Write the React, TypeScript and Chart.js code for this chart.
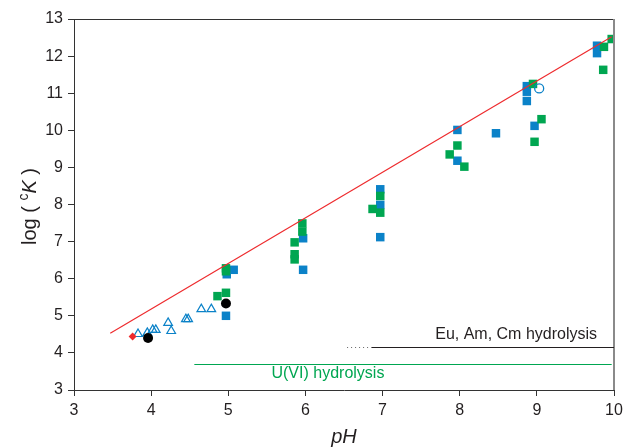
import React, { useEffect, useRef } from "react";
import { Chart, registerables } from "chart.js";

Chart.register(...registerables);

// Hydrolysis constants log(cK) against pH

const blueSquarePH = [4.97, 4.98, 5.07, 5.97, 5.97, 6.97, 6.97, 6.97, 7.97, 7.97, 8.47, 8.97, 8.87, 8.87, 8.87, 9.78, 9.78];
const blueSquareLogK = [5.0, 6.12, 6.24, 7.09, 6.24, 8.41, 7.99, 7.12, 10.01, 9.18, 9.92, 10.12, 11.19, 11.04, 10.79, 12.28, 12.08];

const greenSquarePH = [4.97, 4.97, 4.86, 4.97, 5.96, 5.96, 5.86, 5.86, 5.86, 6.97, 6.87, 6.97, 7.97, 7.87, 8.06, 8.97, 9.06, 8.95, 9.87, 9.97, 9.86];
const greenSquareLogK = [6.28, 6.2, 5.53, 5.62, 7.49, 7.27, 6.98, 6.66, 6.52, 8.23, 7.88, 7.78, 9.59, 9.35, 9.02, 9.69, 10.3, 11.25, 12.25, 12.46, 11.63];

const trianglePH = [3.83, 3.95, 4.02, 4.06, 4.22, 4.26, 4.45, 4.48, 4.65, 4.78];
const triangleLogK = [4.51, 4.54, 4.62, 4.62, 4.81, 4.59, 4.91, 4.91, 5.18, 5.18];

const blackCirclePH = [3.96, 4.97];
const blackCircleLogK = [4.4, 5.33];

const openCirclePH = [9.03];
const openCircleLogK = [11.13];

const redDiamondPH = [3.76];
const redDiamondLogK = [4.44];

const fitLinePH = [3.47, 9.97];
const fitLineLogK = [4.53, 12.52];

const xTickValues = [3, 4, 5, 6, 7, 8, 9, 10];
const yTickValues = [3, 4, 5, 6, 7, 8, 9, 10, 11, 12, 13];

// Hydrolysis range markers: [pH start, pH end, logK]
const euDottedRange = [6.54, 6.86];
const euLineRange = [6.86, 10];
const euLineLogK = 4.15;
const euLabel = "Eu, Am, Cm hydrolysis";
const euLabelAt = [9.78, 4.5];

const uLineRange = [4.56, 9.97];
const uLineLogK = 3.69;
const uLabel = "U(VI) hydrolysis";
const uLabelAt = [5.56, 3.43];

const FONT = '"Liberation Sans", Arial, Helvetica, sans-serif';
const BLUE = "#0b82c8";
const GREEN = "#00a651";
const RED = "#ee2b2e";
const INK = "#231f20";

const pts = (xs: number[], ys: number[]) => xs.map((x, i) => ({ x, y: ys[i] }));

const notesPlugin = {
  id: "notes",
  afterDatasetsDraw(chart: any) {
    const { ctx, chartArea, scales } = chart;
    const x = scales.x;
    const y = scales.y;
    ctx.save();

    // top and right frame
    ctx.strokeStyle = "#333";
    ctx.lineWidth = 1;
    ctx.beginPath();
    ctx.moveTo(chartArea.left, Math.round(chartArea.top) + 0.5);
    ctx.lineTo(chartArea.right, Math.round(chartArea.top) + 0.5);
    ctx.stroke();
    ctx.strokeStyle = "#8a8a8a";
    ctx.lineWidth = 2;
    ctx.beginPath();
    ctx.moveTo(chartArea.right, chartArea.top);
    ctx.lineTo(chartArea.right, chartArea.bottom);
    ctx.stroke();

    // Eu, Am, Cm range
    const ey = Math.round(y.getPixelForValue(euLineLogK)) + 0.5;
    ctx.strokeStyle = "#666";
    ctx.lineWidth = 1;
    ctx.setLineDash([1, 3]);
    ctx.beginPath();
    ctx.moveTo(x.getPixelForValue(euDottedRange[0]), ey);
    ctx.lineTo(x.getPixelForValue(euDottedRange[1]), ey);
    ctx.stroke();
    ctx.setLineDash([]);
    ctx.strokeStyle = INK;
    ctx.beginPath();
    ctx.moveTo(x.getPixelForValue(euLineRange[0]), ey);
    ctx.lineTo(x.getPixelForValue(euLineRange[1]), ey);
    ctx.stroke();

    ctx.font = `16px ${FONT}`;
    ctx.fillStyle = INK;
    ctx.textAlign = "right";
    ctx.textBaseline = "middle";
    ctx.fillText(euLabel, x.getPixelForValue(euLabelAt[0]), y.getPixelForValue(euLabelAt[1]));

    // U(VI) range
    const uy = Math.round(y.getPixelForValue(uLineLogK)) + 0.5;
    ctx.strokeStyle = GREEN;
    ctx.beginPath();
    ctx.moveTo(x.getPixelForValue(uLineRange[0]), uy);
    ctx.lineTo(x.getPixelForValue(uLineRange[1]), uy);
    ctx.stroke();
    ctx.fillStyle = GREEN;
    ctx.textAlign = "left";
    ctx.fillText(uLabel, x.getPixelForValue(uLabelAt[0]), y.getPixelForValue(uLabelAt[1]));

    ctx.restore();
  },
  afterDraw(chart: any) {
    const { ctx, chartArea } = chart;
    ctx.save();
    ctx.fillStyle = INK;

    // x title
    ctx.font = `italic 20px ${FONT}`;
    ctx.textAlign = "center";
    ctx.textBaseline = "alphabetic";
    ctx.fillText("pH", (chartArea.left + chartArea.right) / 2, 443);

    // y title: log ( cK ) with superscript c and italic K
    const parts = [
      { t: "log ( ", f: `20px ${FONT}`, dy: 0 },
      { t: "c", f: `14px ${FONT}`, dy: -8 },
      { t: "K", f: `italic 20px ${FONT}`, dy: 0 },
      { t: " )", f: `20px ${FONT}`, dy: 0 },
    ];
    let total = 0;
    const widths = parts.map((p) => {
      ctx.font = p.f;
      const w = ctx.measureText(p.t).width;
      total += w;
      return w;
    });
    ctx.translate(36, (chartArea.top + chartArea.bottom) / 2 + 2);
    ctx.rotate(-Math.PI / 2);
    ctx.textAlign = "left";
    let cx = -total / 2;
    parts.forEach((p, i) => {
      ctx.font = p.f;
      ctx.fillText(p.t, cx, p.dy);
      cx += widths[i];
    });
    ctx.restore();
  },
};

export default function App() {
  const canvasRef = useRef<HTMLCanvasElement | null>(null);

  useEffect(() => {
    document.body.style.margin = "0";
    const canvas = canvasRef.current;
    if (!canvas) return;

    const squareStyle = (color: string) => ({
      type: "scatter" as const,
      pointStyle: "rect",
      pointRadius: 6,
      backgroundColor: color,
      borderColor: color,
      borderWidth: 0,
    });

    const chart = new Chart(canvas, {
      type: "scatter",
      data: {
        datasets: [
          {
            type: "line",
            data: pts(fitLinePH, fitLineLogK),
            borderColor: RED,
            borderWidth: 1.2,
            pointRadius: 0,
            fill: false,
          } as any,
          {
            data: pts(redDiamondPH, redDiamondLogK),
            pointStyle: "rectRot",
            pointRadius: 4,
            backgroundColor: RED,
            borderColor: RED,
            borderWidth: 0,
          },
          {
            data: pts(openCirclePH, openCircleLogK),
            pointStyle: "circle",
            pointRadius: 4.5,
            backgroundColor: "rgba(255,255,255,0)",
            borderColor: BLUE,
            borderWidth: 1.3,
          },
          {
            data: pts(blackCirclePH, blackCircleLogK),
            pointStyle: "circle",
            pointRadius: 5,
            backgroundColor: "#000",
            borderColor: "#000",
            borderWidth: 0,
          },
          {
            data: pts(trianglePH, triangleLogK),
            pointStyle: "triangle",
            pointRadius: 5,
            backgroundColor: "rgba(255,255,255,0)",
            borderColor: BLUE,
            borderWidth: 1.2,
          },
          { data: pts(greenSquarePH, greenSquareLogK), ...squareStyle(GREEN) },
          { data: pts(blueSquarePH, blueSquareLogK), ...squareStyle(BLUE) },
        ] as any,
      },
      options: {
        responsive: false,
        animation: false,
        devicePixelRatio: 1,
        layout: { padding: { top: 19, right: 15, left: 0, bottom: 0 } },
        plugins: {
          legend: { display: false },
          tooltip: { enabled: false },
        },
        scales: {
          x: {
            type: "linear",
            min: 3,
            max: 10,
            afterBuildTicks: (s: any) => {
              s.ticks = xTickValues.map((v) => ({ value: v }));
            },
            afterFit: (s: any) => {
              s.height = 57;
            },
            grid: {
              drawOnChartArea: false,
              drawTicks: true,
              tickLength: 6,
              color: "#333",
            },
            border: { display: true, color: "#333", width: 1 },
            ticks: {
              color: INK,
              font: { family: FONT, size: 16 },
              padding: 5,
              maxRotation: 0,
            },
          },
          y: {
            type: "linear",
            min: 3,
            max: 13,
            afterBuildTicks: (s: any) => {
              s.ticks = yTickValues.map((v) => ({ value: v }));
            },
            afterFit: (s: any) => {
              s.width = 74;
            },
            grid: {
              drawOnChartArea: false,
              drawTicks: true,
              tickLength: 6,
              color: "#333",
            },
            border: { display: true, color: "#333", width: 1 },
            ticks: {
              color: INK,
              font: { family: FONT, size: 16 },
              padding: 5,
            },
          },
        },
      },
      plugins: [notesPlugin],
    });

    return () => chart.destroy();
  }, []);

  return (
    <div style={{ position: "absolute", left: 0, top: 0, width: 629, height: 447 }}>
      <canvas ref={canvasRef} width={629} height={447} />
    </div>
  );
}
